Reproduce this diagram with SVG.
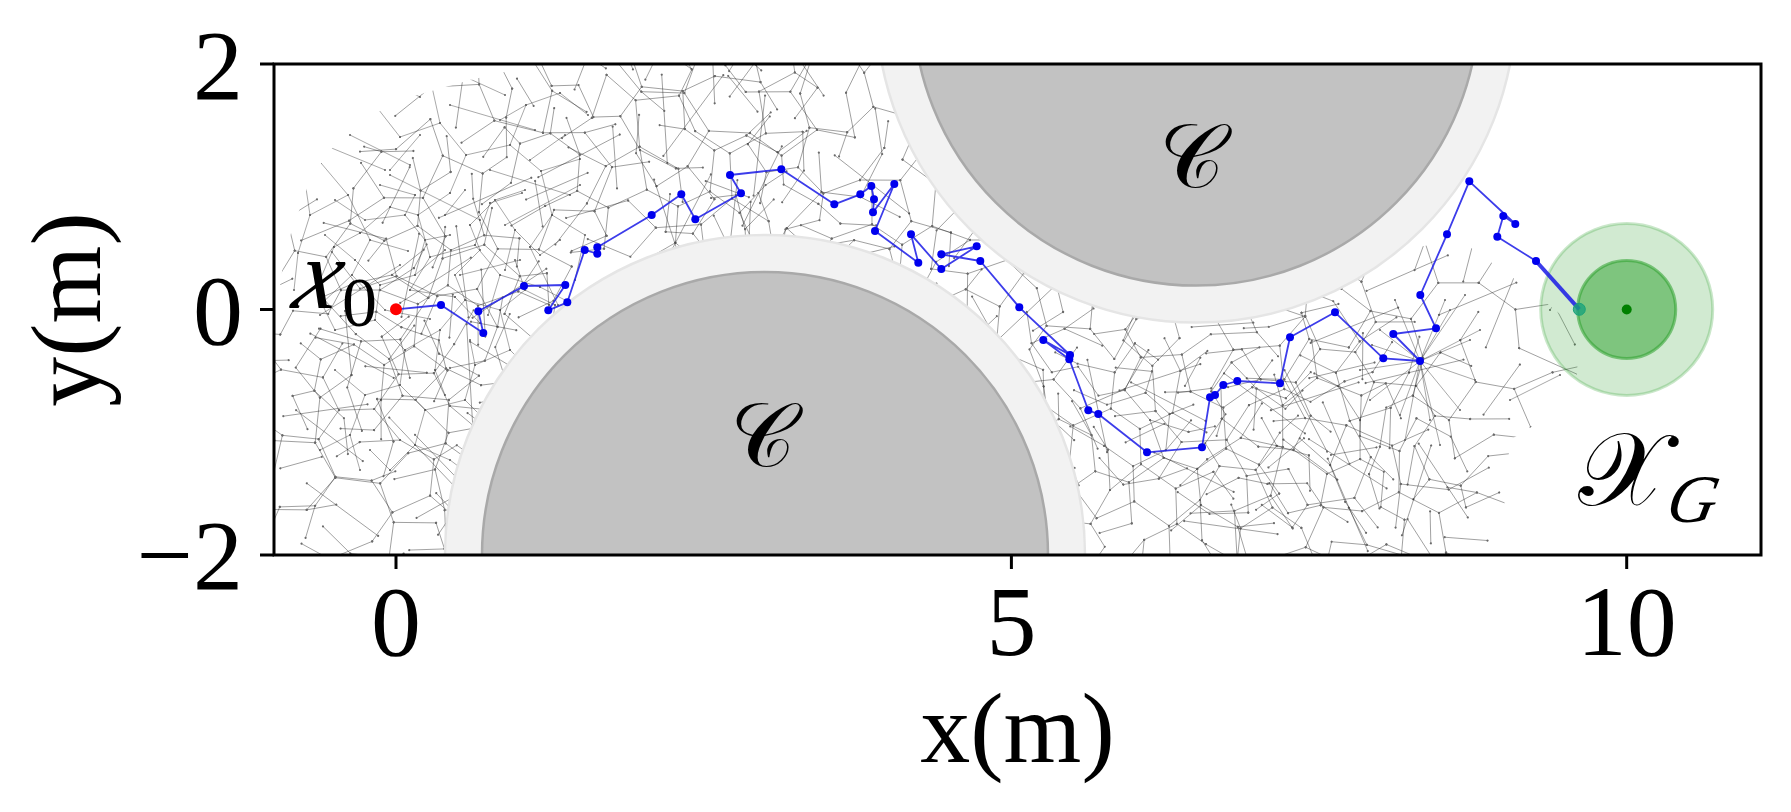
<svg xmlns="http://www.w3.org/2000/svg" xmlns:xlink="http://www.w3.org/1999/xlink" width="1791" height="812" viewBox="0 0 1791 812">
<style>
.tree{fill:none;stroke:#1e1e1e;stroke-opacity:0.55;stroke-width:0.7;marker-start:url(#dot);marker-mid:url(#dot);marker-end:url(#dot)}
.tick{font-family:"Liberation Serif","Times New Roman",serif;font-size:100px;fill:#000}
.lab{font-family:"Liberation Serif","Times New Roman",serif;font-size:100px;fill:#000}
.math{font-family:"Liberation Serif","Times New Roman",serif;font-style:italic;fill:#000}
.scr{font-family:"DejaVu Serif","DejaVu Sans","Noto Sans",serif;fill:#000}
.ring{fill:#f2f2f2;stroke:#e5e5e5;stroke-width:2.5}
.core{fill:#c2c2c2;stroke:#a9a9a9;stroke-width:2.5}
.bn{fill:#0000ee}
.tk{stroke:#000;stroke-width:3}
</style>
<defs>
<marker id="dot" markerUnits="userSpaceOnUse" markerWidth="4" markerHeight="4" refX="2" refY="2" viewBox="0 0 4 4"><circle cx="2" cy="2" r="1.1" fill="#6a6a6a"/></marker>
<clipPath id="ax"><rect x="274" y="64" width="1487" height="491"/></clipPath>
<clipPath id="free"><polygon points="274,555 274,330 285,250 310,180 345,130 400,100 470,80 540,64 1000,64 1000,200 1100,300 1460,240 1530,290 1580,330 1575,400 1510,440 1500,555"/></clipPath>
<path id="t1" class="tree" d="M12 20L40 45L31 88L58 120M40 45L85 30L110 62M85 30L96 5M110 62L150 48L176 80L160 118M150 48L142 12M176 80L220 70L251 96M220 70L236 30L270 18M251 96L290 84M251 96L262 140L240 172M160 118L128 140L100 132L70 158M128 140L140 182L120 215M58 120L20 140L8 178M58 120L80 165L62 200L30 230M80 165L118 176M140 182L185 170L210 200L250 212M185 170L200 128M210 200L198 240M262 140L295 160L285 205M240 172L268 230M70 158L44 172M20 140L14 100M31 88L5 70M200 128L232 118M96 5L130 22M270 18L298 40M62 200L95 235L140 244M120 215L165 222M8 178L4 215M44 172L30 205M165 222L190 248M250 212L296 236M142 12L180 4L215 20M236 30L210 45M10 60L95 95M160 30L245 55M100 100L190 145M30 240L110 190M200 95L280 120M60 60L120 90M215 150L290 110M130 60L100 95M275 60L240 85M170 200L230 185"/>
<path id="t2" class="tree" d="M150 125L120 100L95 110L70 85L45 95M120 100L130 65L110 40L125 10M130 65L170 55L195 30M170 55L185 90L220 100L245 75L280 80M185 90L160 95M220 100L230 140L265 150L290 175M230 140L205 165L215 200L190 230M205 165L170 160L150 125M170 160L140 190L105 185L80 210M140 190L150 230M105 185L95 150L60 140L35 160L15 150M60 140L55 115M35 160L40 200L20 230M95 150L70 120M265 150L280 115L295 95M215 200L255 215L270 245M255 215L290 205M45 95L20 70L10 40M20 70L50 50L75 25L60 5M50 50L90 60M195 30L240 20L265 40M240 20L230 5M150 230L120 245M80 210L55 240M10 100L35 120M280 80L300 50M110 40L80 50M245 75L260 45M150 125L190 130M190 130L215 120M290 175L270 195M15 150L5 185M125 10L160 15"/>
</defs>
<rect width="1791" height="812" fill="#fff"/>
<g id="tree" clip-path="url(#free)">
<use xlink:href="#t1" transform="translate(290,75)"/>
<use xlink:href="#t2" transform="translate(290,205) rotate(90 150 125)"/>
<use xlink:href="#t1" transform="translate(270,325) rotate(200 150 125)"/>
<use xlink:href="#t2" transform="translate(230,165) rotate(-40 150 125)"/>
<use xlink:href="#t1" transform="translate(330,75) rotate(130 150 125)"/>
<use xlink:href="#t2" transform="translate(250,315) rotate(170 150 125)"/>
<use xlink:href="#t1" transform="translate(320,255) rotate(60 150 125)"/>
<use xlink:href="#t2" transform="translate(490,25) rotate(20 150 125)"/>
<use xlink:href="#t1" transform="translate(610,15) rotate(250 150 125)"/>
<use xlink:href="#t2" transform="translate(710,55) rotate(300 150 125)"/>
<use xlink:href="#t1" transform="translate(540,-5) rotate(100 150 125)"/>
<use xlink:href="#t2" transform="translate(820,115) rotate(140 150 125)"/>
<use xlink:href="#t1" transform="translate(890,175) rotate(-70 150 125)"/>
<use xlink:href="#t2" transform="translate(1000,295) rotate(10 150 125)"/>
<use xlink:href="#t1" transform="translate(1110,275) rotate(190 150 125)"/>
<use xlink:href="#t2" transform="translate(1210,295) rotate(230 150 125)"/>
<use xlink:href="#t1" transform="translate(1270,245) rotate(320 150 125)"/>
<use xlink:href="#t2" transform="translate(1050,375) rotate(80 150 125)"/>
<use xlink:href="#t1" transform="translate(1200,385) rotate(40 150 125)"/>
<use xlink:href="#t2" transform="translate(960,365) rotate(260 150 125)"/>
<path class="tree" d="M1420 361L1380 330M1420 361L1395 300M1420 361L1450 310M1420 361L1470 340M1420 361L1475 380M1420 361L1460 410M1420 361L1430 420M1420 361L1400 415M1420 361L1370 400M1420 361L1360 370M1420 361L1445 300M1420 361L1480 330M1420 361L1405 440M1420 361L1440 445M1420 361L1465 295M1420 361L1372 345"/>
<path class="tree" d="M1469 181L1483 158M1536 261L1566 285L1628 252M1566 285L1550 310M1560 375L1510 400"/>
</g>
<g id="obstacle-lower" clip-path="url(#ax)">
<circle class="ring" cx="765" cy="555" r="320"/>
<circle class="core" cx="765" cy="555" r="283"/>
</g>
<g id="obstacle-upper" clip-path="url(#ax)">
<circle class="ring" cx="1196" cy="2.6" r="320"/>
<circle class="core" cx="1196" cy="2.6" r="283"/>
</g>
<g id="goal">
<circle cx="1626.7" cy="309.5" r="86" fill="#2ca02c" fill-opacity="0.22" stroke="#2ca02c" stroke-opacity="0.25" stroke-width="3"/>
<circle cx="1626.7" cy="309.5" r="49" fill="#2ca02c" fill-opacity="0.5" stroke="#2ca02c" stroke-opacity="0.55" stroke-width="3"/>
<circle cx="1626.7" cy="309.5" r="5" fill="#008000"/>
</g>
<g id="path">
<polyline fill="none" stroke="#1a1ae6" stroke-opacity="0.85" stroke-width="1.8" stroke-linejoin="round" points="396,309.3 441,305 483.3,333 478.3,311.3 524,286 565.3,285 548.3,310.3 567.3,302.3 584.7,250 597.3,253.7 597.3,247.3 651.7,215 681.3,194.3 695.3,219.3 741,193.3 730,175 781.3,169.3 834.3,204.3 860.3,194.3 871.3,186 874,199.3 873,212.3 894.3,184 875,231 918.3,262.7 911,234.3 941.3,269 976.7,246.3 941.3,254.3 980.3,261 1019.3,307.3 1070,355 1043.3,340 1069.3,359.3 1088.3,410.3 1098.3,414 1147,452.3 1202,447.3 1210,397.3 1215,395 1223.3,385 1237.3,381 1280,383.3 1290,337.3 1335,312.3 1383.3,358.3 1420,361 1393.3,334 1436,328.3 1420.3,295 1447,234.3 1469.3,181.3 1515.3,224 1503.3,216 1497.3,236.7 1536,261"/>
<line x1="1536" y1="261" x2="1579.3" y2="309.3" stroke="#1a1ae6" stroke-opacity="0.85" stroke-width="4"/>
<g class="bn">
<circle cx="441" cy="305" r="4"/><circle cx="483.3" cy="333" r="4"/><circle cx="478.3" cy="311.3" r="4"/><circle cx="524" cy="286" r="4"/><circle cx="565.3" cy="285" r="4"/><circle cx="548.3" cy="310.3" r="4"/><circle cx="567.3" cy="302.3" r="4"/><circle cx="584.7" cy="250" r="4"/><circle cx="597.3" cy="253.7" r="4"/><circle cx="597.3" cy="247.3" r="4"/><circle cx="651.7" cy="215" r="4"/><circle cx="681.3" cy="194.3" r="4"/><circle cx="695.3" cy="219.3" r="4"/><circle cx="741" cy="193.3" r="4"/><circle cx="730" cy="175" r="4"/><circle cx="781.3" cy="169.3" r="4"/><circle cx="834.3" cy="204.3" r="4"/><circle cx="860.3" cy="194.3" r="4"/><circle cx="871.3" cy="186" r="4"/><circle cx="874" cy="199.3" r="4"/><circle cx="873" cy="212.3" r="4"/><circle cx="894.3" cy="184" r="4"/><circle cx="875" cy="231" r="4"/><circle cx="918.3" cy="262.7" r="4"/><circle cx="911" cy="234.3" r="4"/><circle cx="941.3" cy="269" r="4"/><circle cx="976.7" cy="246.3" r="4"/><circle cx="941.3" cy="254.3" r="4"/><circle cx="980.3" cy="261" r="4"/><circle cx="1019.3" cy="307.3" r="4"/><circle cx="1070" cy="355" r="4"/><circle cx="1043.3" cy="340" r="4"/><circle cx="1069.3" cy="359.3" r="4"/><circle cx="1088.3" cy="410.3" r="4"/><circle cx="1098.3" cy="414" r="4"/><circle cx="1147" cy="452.3" r="4"/><circle cx="1202" cy="447.3" r="4"/><circle cx="1210" cy="397.3" r="4"/><circle cx="1215" cy="395" r="4"/><circle cx="1223.3" cy="385" r="4"/><circle cx="1237.3" cy="381" r="4"/><circle cx="1280" cy="383.3" r="4"/><circle cx="1290" cy="337.3" r="4"/><circle cx="1335" cy="312.3" r="4"/><circle cx="1383.3" cy="358.3" r="4"/><circle cx="1420" cy="361" r="4"/><circle cx="1393.3" cy="334" r="4"/><circle cx="1436" cy="328.3" r="4"/><circle cx="1420.3" cy="295" r="4"/><circle cx="1447" cy="234.3" r="4"/><circle cx="1469.3" cy="181.3" r="4"/><circle cx="1515.3" cy="224" r="4"/><circle cx="1503.3" cy="216" r="4"/><circle cx="1497.3" cy="236.7" r="4"/><circle cx="1536" cy="261" r="4"/>
</g>
<circle cx="1579.3" cy="309.3" r="6" fill="#1aa37a" fill-opacity="0.8" stroke="#1aa37a" stroke-width="1"/>
</g>
<g id="start"><circle cx="396" cy="309.3" r="6" fill="#ff0000"/></g>
<g id="labels">
<g transform="translate(290,308) skewX(-15)"><text class="math" x="0" y="0" font-size="100">x</text></g>
<text class="tick" x="342" y="326" style="font-size:70px">0</text>
<text class="scr" x="763" y="466" font-size="90" text-anchor="middle">𝒞</text>
<text class="scr" x="1192" y="187" font-size="90" text-anchor="middle">𝒞</text>
<text class="scr" x="1578" y="505" font-size="104">𝒳</text>
<g transform="translate(1664,522) skewX(-12)"><text class="math" x="0" y="0" font-size="68">G</text></g>
</g>
<g id="axes">
<rect x="274" y="64" width="1487" height="491" fill="none" stroke="#000" stroke-width="3"/>
<line class="tk" x1="396" y1="555" x2="396" y2="569"/>
<line class="tk" x1="1011.4" y1="555" x2="1011.4" y2="569"/>
<line class="tk" x1="1626.7" y1="555" x2="1626.7" y2="569"/>
<line class="tk" x1="260" y1="64" x2="274" y2="64"/>
<line class="tk" x1="260" y1="309.5" x2="274" y2="309.5"/>
<line class="tk" x1="260" y1="555" x2="274" y2="555"/>
<text class="tick" x="396" y="655" text-anchor="middle">0</text>
<text class="tick" x="1011.4" y="655" text-anchor="middle">5</text>
<text class="tick" x="1626.7" y="655" text-anchor="middle">10</text>
<text class="tick" x="243" y="99" text-anchor="end">2</text>
<text class="tick" x="243" y="344" text-anchor="end">0</text>
<text class="tick" x="243" y="589" text-anchor="end">−2</text>
<text class="lab" x="1017.5" y="762" text-anchor="middle">x(m)</text>
<text class="lab" transform="translate(100,309.5) rotate(-90)" text-anchor="middle">y(m)</text>
</g>
</svg>
